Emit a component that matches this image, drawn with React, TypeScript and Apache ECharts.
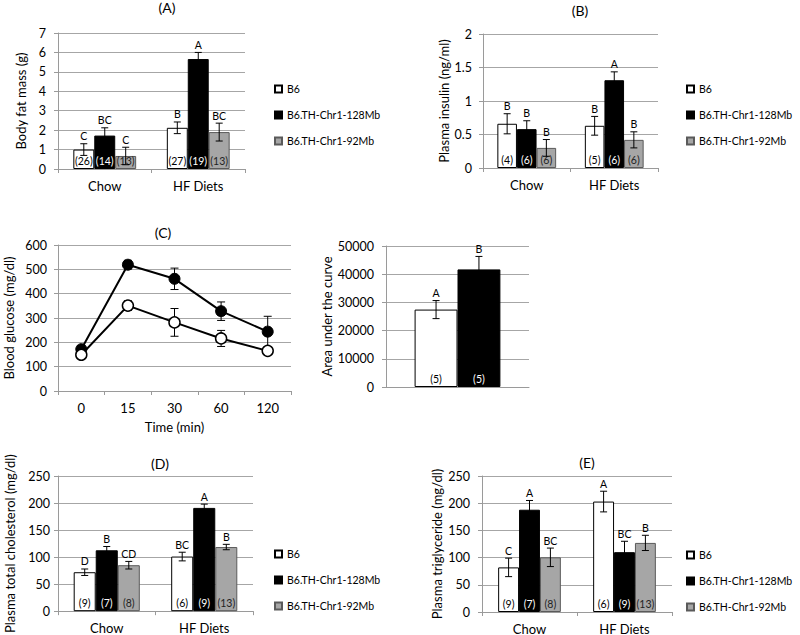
import React, { useEffect, useRef } from "react";
import * as echarts from "echarts";

const FONT = "Lato, 'Open Sans', sans-serif";

const groupNames = ["B6", "B6.TH-Chr1-128Mb", "B6.TH-Chr1-92Mb"];
const dietCategories = ["Chow", "HF Diets"];

// (A) Body fat mass (g) — rows: groups, columns: diets
const fatMassMean = [[1.0, 2.12], [1.72, 5.66], [0.67, 1.9]];
const fatMassErr = [[0.3, 0.3], [0.4, 0.34], [0.45, 0.46]];
const fatMassLetters = [["C", "B"], ["BC", "A"], ["C", "BC"]];
const fatMassN = [["(26)", "(27)"], ["(14)", "(19)"], ["(13)", "(13)"]];
const fatMassAxis = [0, 7, 1];

// (B) Plasma insulin (ng/ml)
const insulinMean = [[0.66, 0.63], [0.58, 1.31], [0.3, 0.42]];
const insulinErr = [[0.15, 0.14], [0.125, 0.125], [0.125, 0.12]];
const insulinLetters = [["B", "B"], ["B", "A"], ["B", "B"]];
const insulinN = [["(4)", "(5)"], ["(6)", "(6)"], ["(6)", "(6)"]];
const insulinAxis = [0, 2, 0.5];

// (C) Blood glucose (mg/dl)
const timeCategories = ["0", "15", "30", "60", "120"];
const glucoseB6 = [149, 351, 282, 216, 165];
const glucoseB6Err = [8, 20, 57, 33, 10];
const glucose128 = [172, 519, 461, 328, 244];
const glucose128Err = [15, 18, 44, 38, 63];
const glucoseAxis = [0, 600, 100];

// Area under the curve
const aucCategories = [""];
const aucMean = [[27450], [41700]];
const aucErr = [[3200], [4600]];
const aucLetters = [["A"], ["B"]];
const aucN = [["(5)"], ["(5)"]];
const aucAxis = [0, 50000, 10000];

// (D) Plasma total cholesterol (mg/dl)
const cholMean = [[72, 101], [112.6, 191], [85, 118.6]];
const cholErr = [[6, 8], [7, 7], [7, 5]];
const cholLetters = [["D", "BC"], ["B", "A"], ["CD", "B"]];
const cholN = [["(9)", "(6)"], ["(7)", "(9)"], ["(8)", "(13)"]];
const cholAxis = [0, 250, 50];

// (E) Plasma triglyceride (mg/dl)
const tgMean = [[82, 203], [188, 110], [100.5, 127]];
const tgErr = [[17, 19], [17, 20], [17, 14]];
const tgLetters = [["C", "A"], ["A", "BC"], ["BC", "B"]];
const tgN = [["(9)", "(6)"], ["(7)", "(9)"], ["(8)", "(13)"]];
const tgAxis = [0, 250, 50];

const barFill = ["#ffffff", "#000000", "#a6a6a6"];
const barBorder = ["#000000", "#000000", "#5a5a5a"];
const nLabelColor = ["#000000", "#ffffff", "#222222"];

const GRID_COLOR = "#a6a6a6";
const AXIS_COLOR = "#9a9a9a";

function errorBarChildren(cx: number, yTop: number, yBot: number, cap: number) {
  const ls = { stroke: "#000", lineWidth: 1 };
  return [
    { type: "line", shape: { x1: cx, y1: yTop, x2: cx, y2: yBot }, style: ls },
    { type: "line", shape: { x1: cx - cap, y1: yTop, x2: cx + cap, y2: yTop }, style: ls },
    { type: "line", shape: { x1: cx - cap, y1: yBot, x2: cx + cap, y2: yBot }, style: ls },
  ];
}

function barPanel(
  g: number,
  mean: number[][],
  err: number[][],
  letters: string[][],
  ns: string[][],
  widthPct: number
) {
  const series: any[] = [];
  const k = mean.length;
  mean.forEach((vals, i) => {
    series.push({
      type: "bar",
      name: groupNames[i],
      xAxisIndex: g,
      yAxisIndex: g,
      data: vals,
      barWidth: widthPct + "%",
      barGap: "0%",
      itemStyle: { color: barFill[i], borderColor: barBorder[i], borderWidth: 1 },
      label: {
        show: true,
        position: "insideBottom",
        distance: 3,
        formatter: (p: any) => ns[i][p.dataIndex],
        color: nLabelColor[i],
        fontSize: 10.5,
        fontFamily: FONT,
      },
    });
  });
  mean.forEach((vals, i) => {
    series.push({
      type: "custom",
      xAxisIndex: g,
      yAxisIndex: g,
      z: 5,
      data: vals.map((v, j) => [j, v, err[i][j]]),
      renderItem: (params: any, api: any) => {
        const cat = api.value(0);
        const v = api.value(1);
        const e = api.value(2);
        const band = api.size([1, 0])[0];
        const cx = api.coord([cat, v])[0] + (i - (k - 1) / 2) * band * (widthPct / 100);
        const yTop = api.coord([cat, v + e])[1];
        const yBot = api.coord([cat, v - e])[1];
        return {
          type: "group",
          children: [
            ...errorBarChildren(cx, yTop, yBot, 3.5),
            {
              type: "text",
              x: cx,
              y: yTop - 2,
              style: {
                text: letters[i][params.dataIndex],
                fill: "#000000",
                fontSize: 10.5,
                fontFamily: FONT,
                align: "center",
                verticalAlign: "bottom",
              },
            },
          ],
        };
      },
    });
  });
  return series;
}

function lineErrorSeries(g: number, vals: number[], errs: number[]) {
  return {
    type: "custom",
    xAxisIndex: g,
    yAxisIndex: g,
    z: 3,
    data: vals.map((v, j) => [j, v, errs[j]]),
    renderItem: (params: any, api: any) => {
      const cat = api.value(0);
      const v = api.value(1);
      const e = api.value(2);
      const cx = api.coord([cat, v])[0];
      const yTop = api.coord([cat, v + e])[1];
      const yBot = api.coord([cat, v - e])[1];
      return { type: "group", children: errorBarChildren(cx, yTop, yBot, 4) };
    },
  };
}

function xCat(g: number, data: string[], extra: any = {}) {
  return {
    type: "category",
    gridIndex: g,
    data,
    axisLine: { show: true, lineStyle: { color: AXIS_COLOR, width: 1 } },
    axisTick: { show: true, length: 4, lineStyle: { color: AXIS_COLOR } },
    axisLabel: { fontSize: 13, color: "#000", margin: 10, fontFamily: FONT },
    splitLine: { show: false },
    ...extra,
  };
}

function yVal(g: number, axis: number[], name: string, nameGap: number, margin: number) {
  return {
    type: "value",
    gridIndex: g,
    min: axis[0],
    max: axis[1],
    interval: axis[2],
    name,
    nameLocation: "middle",
    nameGap,
    nameTextStyle: { fontSize: 13, color: "#000", fontFamily: FONT },
    axisLine: { show: true, lineStyle: { color: AXIS_COLOR, width: 1 } },
    axisTick: { show: true, length: 4, lineStyle: { color: AXIS_COLOR } },
    axisLabel: {
      fontSize: 12.5,
      color: "#000",
      margin,
      fontFamily: FONT,
      formatter: (v: number) => String(v),
    },
    splitLine: { show: true, lineStyle: { color: GRID_COLOR, width: 1 } },
  };
}

function legendAt(left: number, top: number) {
  return {
    data: groupNames,
    orient: "vertical",
    left,
    top,
    icon: "rect",
    itemWidth: 7,
    itemHeight: 7,
    itemGap: 12,
    selectedMode: false,
    textStyle: { fontSize: 10.5, color: "#000", fontFamily: FONT, lineHeight: 14 },
  };
}

function titleText(x: number, y: number, text: string) {
  return {
    type: "text",
    x,
    y,
    style: {
      text,
      fill: "#000",
      fontSize: 14,
      fontFamily: FONT,
      align: "center",
      verticalAlign: "middle",
    },
  };
}

export default function App() {
  const ref = useRef<HTMLDivElement>(null);
  useEffect(() => {
    if (!ref.current) return;
    const chart = echarts.init(ref.current, undefined, { renderer: "svg" });
    const option: any = {
      animation: false,
      backgroundColor: "#ffffff",
      textStyle: { fontFamily: FONT },
      graphic: [
        titleText(167, 7, "(A)"),
        titleText(580, 10, "(B)"),
        titleText(163, 232, "(C)"),
        titleText(160, 463, "(D)"),
        titleText(587, 462, "(E)"),
      ],
      legend: [legendAt(269, 77), legendAt(681, 77), legendAt(269, 542), legendAt(681, 543)],
      grid: [
        { left: 58, top: 33, width: 187, height: 136 },
        { left: 483, top: 34, width: 175, height: 134 },
        { left: 58, top: 245, width: 233, height: 146 },
        { left: 386, top: 246, width: 143, height: 141 },
        { left: 58, top: 476, width: 195, height: 137 },
        { left: 482, top: 476, width: 190, height: 137 },
      ],
      xAxis: [
        xCat(0, dietCategories),
        xCat(1, dietCategories),
        xCat(2, timeCategories, {
          name: "Time (min)",
          nameLocation: "middle",
          nameGap: 29,
          nameTextStyle: { fontSize: 13, color: "#000", fontFamily: FONT },
        }),
        xCat(3, aucCategories, { axisTick: { show: false }, axisLabel: { show: false } }),
        xCat(4, dietCategories),
        xCat(5, dietCategories),
      ],
      yAxis: [
        yVal(0, fatMassAxis, "Body fat mass (g)", 31, 12),
        yVal(1, insulinAxis, "Plasma insulin (ng/ml)", 33, 11),
        yVal(2, glucoseAxis, "Blood glucose (mg/dl)", 43, 11),
        yVal(3, aucAxis, "Area under the curve", 41, 12),
        yVal(4, cholAxis, "Plasma total cholesterol (mg/dl)", 42, 8),
        yVal(5, tgAxis, "Plasma triglyceride (mg/dl)", 39, 12),
      ],
      series: [
        ...barPanel(0, fatMassMean, fatMassErr, fatMassLetters, fatMassN, 22.4),
        ...barPanel(1, insulinMean, insulinErr, insulinLetters, insulinN, 22.4),
        lineErrorSeries(2, glucose128, glucose128Err),
        lineErrorSeries(2, glucoseB6, glucoseB6Err),
        {
          type: "line",
          name: "glucose 128Mb",
          xAxisIndex: 2,
          yAxisIndex: 2,
          data: glucose128,
          symbol: "circle",
          symbolSize: 11,
          z: 4,
          lineStyle: { color: "#000", width: 2 },
          itemStyle: { color: "#000", borderColor: "#000", borderWidth: 1 },
        },
        {
          type: "line",
          name: "glucose B6",
          xAxisIndex: 2,
          yAxisIndex: 2,
          data: glucoseB6,
          symbol: "circle",
          symbolSize: 11,
          z: 4,
          lineStyle: { color: "#000", width: 2 },
          itemStyle: { color: "#fff", borderColor: "#000", borderWidth: 1.5 },
        },
        ...barPanel(3, aucMean, aucErr, aucLetters, aucN, 30),
        ...barPanel(4, cholMean, cholErr, cholLetters, cholN, 22.6),
        ...barPanel(5, tgMean, tgErr, tgLetters, tgN, 22),
      ],
    };
    chart.setOption(option);
    return () => chart.dispose();
  }, []);
  return (
    <div
      ref={ref}
      style={{ position: "absolute", left: 0, top: 0, width: 800, height: 635, background: "#fff" }}
    />
  );
}
